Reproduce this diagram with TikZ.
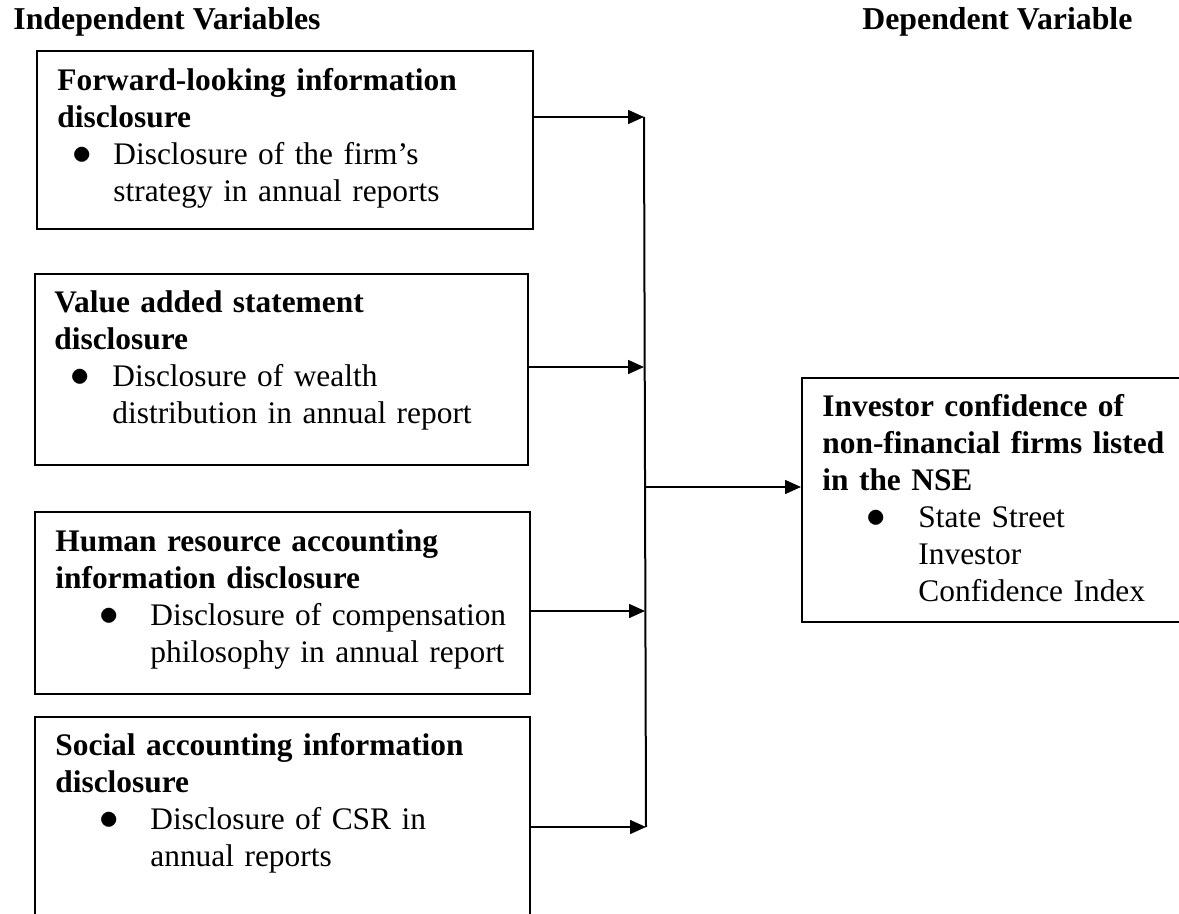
\documentclass[tikz,border=0pt]{standalone}
\usepackage{fontspec}
\setmainfont{Liberation Serif}
\usetikzlibrary{arrows.meta}

% bullet: indent to the dot, then room up to the text
\newcommand{\bpt}[2]{\hspace*{#1}\makebox[#2][l]{\scalebox{1.35}{$\bullet$}}}

\begin{document}
\begin{tikzpicture}[x=0.5pt, y=-0.5pt, >={Triangle[length=8pt,width=7pt]},
    font=\fontsize{15.7}{18.5}\selectfont,
    frame/.style={draw, line width=1pt, anchor=north west, inner sep=0pt},
    body/.style={anchor=base west, inner sep=0pt, text width=#1, align=left},
    head/.style={anchor=base west, inner sep=0pt, font=\fontsize{15.9}{18.5}\selectfont\bfseries},
    link/.style={->, line width=0.8pt}]
  \useasboundingbox (0,0) rectangle (1179,914);
  \clip (0,0) rectangle (1179,914);

  \node[head] (indep) at (13,30) {Independent Variables};
  \node[head] (dep) at (862,30) {Dependent Variable};

  % independent variables
  \node[frame, minimum width=248pt, minimum height=89pt] (fwd) at (36,50) {};
  \node[body=240pt] (fwdtxt) at (57,91) {\textbf{Forward-looking information}\\
    \textbf{disclosure}\\
    \bpt{7.5pt}{20.5pt}Disclosure of the firm’s\\
    \hspace*{28pt}strategy in annual reports};

  \node[frame, minimum width=246.5pt, minimum height=95.5pt] (vas) at (34,273) {};
  \node[body=240pt] (vastxt) at (54,313) {\textbf{Value added statement}\\
    \textbf{disclosure}\\
    \bpt{8pt}{21pt}Disclosure of wealth\\
    \hspace*{29pt}distribution in annual report};

  \node[frame, minimum width=247.5pt, minimum height=91pt] (hra) at (34,511) {};
  \node[body=240pt] (hratxt) at (55,552) {\textbf{Human resource accounting}\\
    \textbf{information disclosure}\\
    \bpt{22pt}{25.5pt}Disclosure of compensation\\
    \hspace*{47.5pt}philosophy in annual report};

  \node[frame, minimum width=247.5pt, minimum height=117pt] (sai) at (34,716) {};
  \node[body=240pt] (saitxt) at (55,755) {\textbf{Social accounting information}\\
    \textbf{disclosure}\\
    \bpt{22pt}{25.5pt}Disclosure of CSR in\\
    \hspace*{47.5pt}annual reports};

  % dependent variable
  \node[frame, minimum width=199.5pt, minimum height=122pt] (ic) at (801,377) {};
  \node[body=200pt] (ictxt) at (822,417) {\textbf{Investor confidence of}\\
    \textbf{non-financial firms listed}\\
    \textbf{in the NSE}\\
    \bpt{22pt}{26pt}State Street\\
    \hspace*{48pt}Investor\\
    \hspace*{48pt}Confidence Index};

  % collecting line
  \coordinate (b1) at (644,117);
  \coordinate (b2) at (644,367);
  \coordinate (b0) at (645,487);
  \coordinate (b3) at (645,611);
  \coordinate (b4) at (646,827);
  \draw[line width=1pt] (b1) -- (b4);

  \draw[link] (fwd.east |- b1) -- (b1);
  \draw[link] (vas.east |- b2) -- (b2);
  \draw[link] (hra.east |- b3) -- (b3);
  \draw[link] (sai.east |- b4) -- (b4);
  \draw[link] (b0) -- (ic.west |- b0);
\end{tikzpicture}
\end{document}
